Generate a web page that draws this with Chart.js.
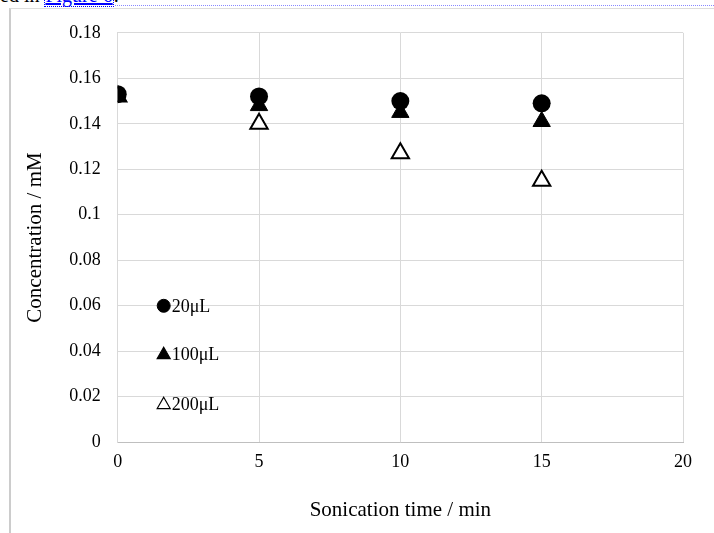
<!DOCTYPE html>
<html>
<head>
<meta charset="utf-8">
<script src="https://cdn.jsdelivr.net/npm/chart.js@4/dist/chart.umd.min.js"></script>
<style>
  body { margin: 0; background: #fff; overflow: hidden; }
  .top { position: absolute; left: 0; top: -16px; font: 20px "Liberation Serif", serif; color: #000; white-space: nowrap; }
  .top a { color: #00f; border: 1px dotted #00f; text-decoration: underline; }
  .dots { position: absolute; left: 115px; right: 0; top: 5px; border-top: 1px dotted #88f; }
  .frame { position: absolute; left: 9px; top: 8px; width: 705px; height: 525px; border-left: 2px solid #ccc; border-top: 1px solid #ddd; }
  .wrap { position: absolute; left: 11px; top: 5px; width: 703px; height: 528px; }
</style>
</head>
<body>
<div class="top">ed in <a>Figure 6</a>.</div>
<div class="dots"></div>
<div class="frame"></div>
<div class="wrap"><canvas id="c"></canvas></div>
<script>
const times = [0, 5, 10, 15];
const conc20 = [0.153, 0.152, 0.150, 0.149];
const conc100 = [0.152, 0.148, 0.145, 0.141];
const conc200 = [0.152, 0.140, 0.127, 0.115];
const yTicks = ['0', '0.02', '0.04', '0.06', '0.08', '0.1', '0.12', '0.14', '0.16', '0.18'];
const xTicks = ['0', '5', '10', '15', '20'];

const pts = (ys) => times.map((t, i) => ({ x: t, y: ys[i] }));

const serif = '"Liberation Serif", "Times New Roman", serif';

// legend drawn inside the plot area, lower left
const innerLegend = {
  id: 'innerLegend',
  afterDatasetsDraw(chart) {
    const ctx = chart.ctx;
    const a = chart.chartArea;
    const offs = [273, 321, 371];
    ctx.save();
    ctx.font = '18px ' + serif;
    ctx.textBaseline = 'middle';
    chart.data.datasets.forEach((ds, i) => {
      const x = a.left + 46;
      const y = a.top + offs[i];
      const round = ds.pointStyle === 'circle';
      ctx.fillStyle = ds.backgroundColor;
      ctx.strokeStyle = ds.borderColor;
      ctx.lineWidth = round ? 0 : 1.2;
      Chart.helpers.drawPoint(ctx, {
        pointStyle: ds.pointStyle,
        radius: round ? 6.5 : 7.5,
        borderWidth: ctx.lineWidth,
        rotation: 0
      }, x, y + (round ? 0 : 1));
      ctx.fillStyle = '#000';
      ctx.fillText(ds.label, x + 8, y + 1);
    });
    ctx.restore();
  }
};

new Chart(document.getElementById('c'), {
  type: 'scatter',
  data: {
    datasets: [
      { label: '20μL', data: pts(conc20), pointStyle: 'circle', pointRadius: 9, pointHoverRadius: 9,
        backgroundColor: '#000', borderColor: '#000', borderWidth: 0 },
      { label: '100μL', data: pts(conc100), pointStyle: 'triangle', pointRadius: 10, pointHoverRadius: 10,
        backgroundColor: '#000', borderColor: '#000', borderWidth: 1 },
      { label: '200μL', data: pts(conc200), pointStyle: 'triangle', pointRadius: 10, pointHoverRadius: 10,
        backgroundColor: '#fff', borderColor: '#000', borderWidth: 2 }
    ]
  },
  options: {
    responsive: true,
    maintainAspectRatio: false,
    animation: false,
    layout: { padding: { left: 8, right: 31, top: 8, bottom: 10 } },
    plugins: {
      legend: { display: false },
      tooltip: { enabled: false }
    },
    scales: {
      x: {
        type: 'linear', min: 0, max: 20,
        ticks: { stepSize: 5, color: '#000', font: { family: serif, size: 18 }, padding: 9,
          callback: (v) => xTicks[v / 5] },
        grid: { color: '#d9d9d9', drawTicks: false },
        border: { color: '#bfbfbf' },
        title: { display: true, text: 'Sonication time / min', color: '#000',
          font: { family: serif, size: 21 }, padding: { top: 16, bottom: 0 } }
      },
      y: {
        type: 'linear', min: 0, max: 0.18,
        ticks: { stepSize: 0.02, color: '#000', font: { family: serif, size: 18 }, padding: 17,
          callback: (v) => yTicks[Math.round(v / 0.02)] },
        grid: { color: '#d9d9d9', drawTicks: false },
        border: { color: '#d9d9d9' },
        title: { display: true, text: 'Concentration / mM', color: '#000',
          font: { family: serif, size: 21 }, padding: { bottom: 4 } }
      }
    }
  },
  plugins: [innerLegend]
});
</script>
</body>
</html>
